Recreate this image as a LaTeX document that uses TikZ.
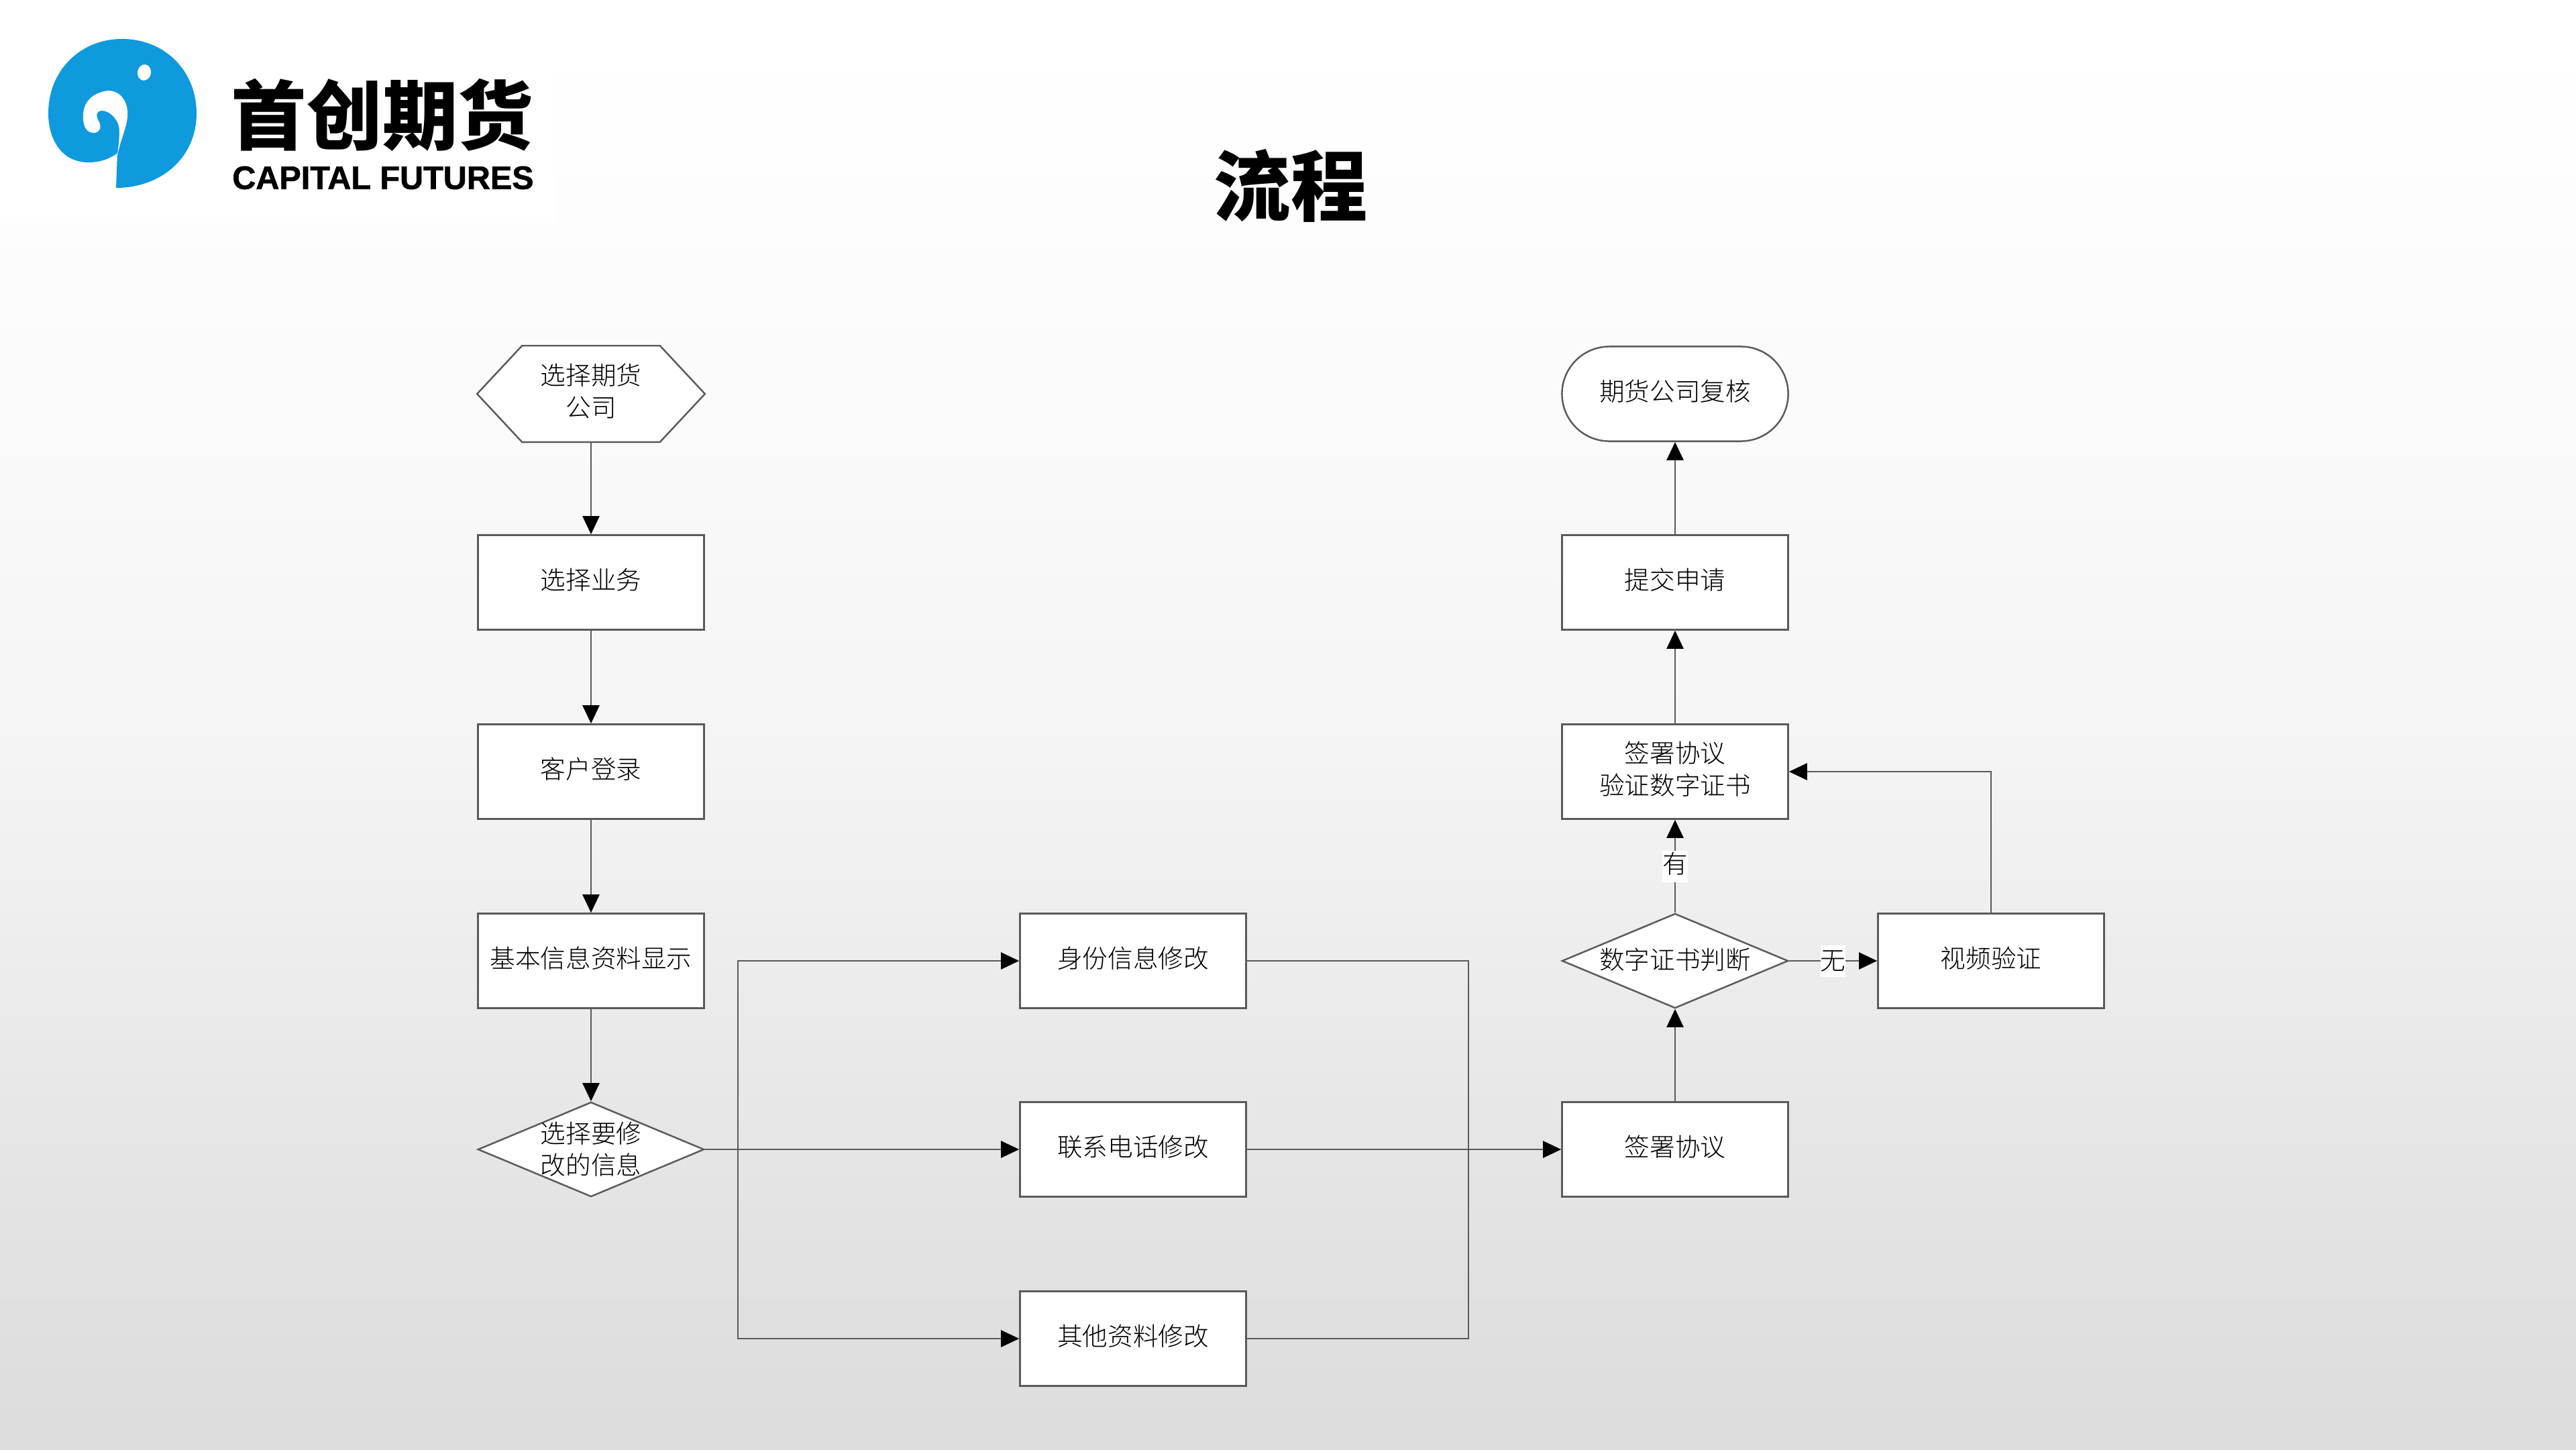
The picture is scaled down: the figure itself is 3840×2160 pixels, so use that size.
\documentclass[tikz,border=0pt]{standalone}
\usepackage{fontspec}
\setmainfont{Noto Sans CJK SC Light}
\newfontfamily\logofont{Noto Sans CJK SC Black}
\newfontfamily\latinbold{Liberation Sans}[FakeBold=1.2]
\usetikzlibrary{calc,positioning,arrows.meta,shapes.geometric,shapes.misc}
\pgfdeclarelayer{back}
\pgfsetlayers{back,main}

\definecolor{flowgray}{HTML}{5A5A5A}
\definecolor{logoblue}{HTML}{0F9ADE}

\pgfdeclareverticalshading{slidegray}{100bp}{rgb(0bp)=(.863,.863,.863); rgb(25bp)=(.863,.863,.863); rgb(33bp)=(.89,.89,.89);
  rgb(45bp)=(.941,.941,.941); rgb(50bp)=(.961,.961,.961); rgb(60bp)=(.98,.98,.98);
  rgb(70bp)=(.996,.996,.996); rgb(75bp)=(1,1,1); rgb(100bp)=(1,1,1)}

\tikzset{
  basebox/.style={draw=flowgray,line width=.7pt,fill=white,minimum width=3.37cm,minimum height=1.41cm,
    inner sep=0pt,align=center,font=\fontsize{10.7pt}{13.4pt}\selectfont},
  procbox/.style={basebox,rectangle,execute at end node={\rule[-3pt]{0pt}{0pt}}},
  hexbox/.style={procbox,draw=none,fill=none},
  endbox/.style={procbox,rounded rectangle},
  decbox/.style={basebox,diamond},
  flowline/.style={draw=flowgray,line width=.7pt},
  flowarrow/.style={flowline,-{Triangle[length=.27cm,width=.25cm,color=black]}},
  edgetext/.style={fill=white,inner xsep=0pt,inner ysep=0pt,minimum height=.47cm,font=\fontsize{10.7pt}{13.4pt}\selectfont}
}
% text that takes no room in the shape
\newcommand{\dectext}[2][-.38em]{\raisebox{#1}[0pt][0pt]{\makebox[0pt]{\begin{tabular}{@{}c@{}}#2\end{tabular}}}}

\begin{document}
\begin{tikzpicture}[x=.01cm,y=-.01cm]

  % logo
  \fill[logoblue] (173,280) .. controls (240,280) and (293,235) .. (293,169)
    .. controls (293,105) and (245,58) .. (182,58)
    .. controls (120,58) and (72,105) .. (72,169)
    .. controls (72,205) and (90,242) .. (132,242)
    .. controls (150,242) and (165,236) .. (175,228) -- cycle;
  \fill[white] (175,232) .. controls (180,205) and (192,185) .. (190,165)
    .. controls (188,145) and (175,135) .. (161,135)
    .. controls (140,138) and (123,150) .. (124,175)
    .. controls (124,190) and (130,198) .. (140,198)
    .. controls (148,198) and (152,190) .. (148,182)
    .. controls (143,175) and (142,165) .. (152,165)
    .. controls (165,165) and (178,180) .. (178,195)
    .. controls (178,210) and (176,220) .. (175,232) -- cycle;
  \fill[white,rotate around={-10:(215,108)}] (215,108) ellipse (10 and 12);

  \node [inner sep=0pt,font=\logofont\fontsize{32pt}{32pt}\selectfont] at(570,171) (logo_cn) {首创期货};
  \node [inner sep=0pt,font=\latinbold\bfseries\fontsize{13.8pt}{14pt}\selectfont] at(571,265) (logo_en) {CAPITAL FUTURES};
  \node [inner sep=0pt,font=\logofont\fontsize{32.5pt}{33pt}\selectfont] at(1924,277) (title) {流程};

  % left column
  \node [hexbox] at(881,587) (sel_company) {选择期货\\公司};
  \node [procbox] at(881,868) (sel_biz) {选择业务};
  \node [procbox] at(881,1150) (login) {客户登录};
  \node [procbox] at(881,1432) (show_info) {基本信息资料显示};
  \node [decbox] at(881,1713) (sel_info) {\dectext{选择要修\\改的信息}};

  % middle column
  \node [procbox] at(1689,1432) (id_edit) {身份信息修改};
  \node [procbox] at(1689,1713) (tel_edit) {联系电话修改};
  \node [procbox] at(1689,1995) (other_edit) {其他资料修改};

  % right column
  \node [endbox] at(2497,587) (review) {期货公司复核};
  \node [procbox] at(2497,868) (submit) {提交申请};
  \node [procbox] at(2497,1150) (verify) {签署协议\\验证数字证书};
  \node [decbox] at(2497,1432) (cert_dec) {\dectext[-.33em]{数字证书判断}};
  \node [procbox] at(2497,1713) (sign) {签署协议};
  \node [procbox] at(2968,1432) (video) {视频验证};

  \begin{pgfonlayer}{back}
    \shade[shading=slidegray] (0,0) rectangle (3840,2160);
    \fill[white] (0,0) rectangle (828,332);
    \draw [flowline,fill=white] (sel_company.west) -- ($(sel_company.north west)+(67,0)$)
      -- ($(sel_company.north east)+(-67,0)$) -- (sel_company.east)
      -- ($(sel_company.south east)+(-67,0)$) -- ($(sel_company.south west)+(67,0)$) -- cycle;
  \end{pgfonlayer}

  \coordinate (bus_left) at(1100,1713);
  \coordinate (bus_right) at(2189,1713);

  \foreach \a/\b in {sel_company/sel_biz,sel_biz/login,login/show_info,show_info/sel_info}{
    \draw [flowarrow] (\a.south) -- (\b.north);
  }
  \foreach \a/\b in {sign/cert_dec,verify/submit,submit/review}{
    \draw [flowarrow] (\a.north) -- (\b.south);
  }

  \draw [flowline] (sel_info.east) -- (bus_left);
  \draw [flowarrow] (bus_left) |- (id_edit.west);
  \draw [flowarrow] (bus_left) -- (tel_edit.west);
  \draw [flowarrow] (bus_left) |- (other_edit.west);

  \draw [flowline] (id_edit.east) -| (bus_right);
  \draw [flowline] (other_edit.east) -| (bus_right);
  \draw [flowarrow] (tel_edit.east) -- (sign.west);

  \draw [flowarrow] (cert_dec.north) -- node[edgetext] (yes_text) {有\rule[-3pt]{0pt}{0pt}} (verify.south);
  \draw [flowarrow] (cert_dec.east) -- node[edgetext] (no_text) {无} (video.west);
  \draw [flowarrow] (video.north) |- (verify.east);

\end{tikzpicture}
\end{document}
